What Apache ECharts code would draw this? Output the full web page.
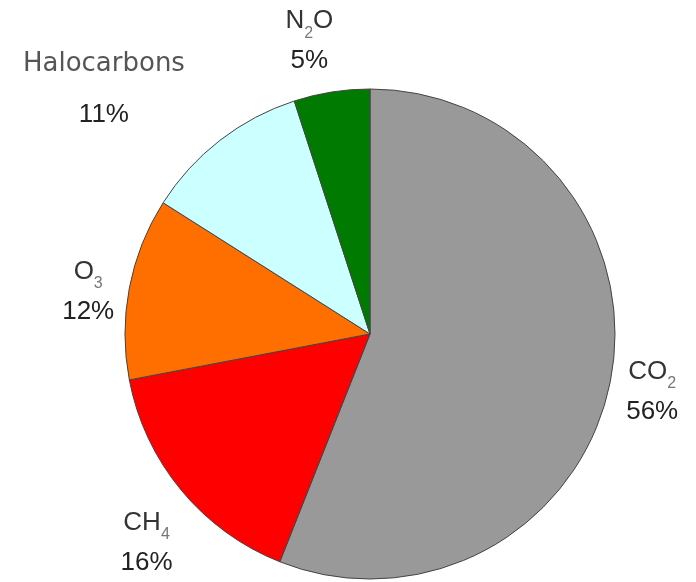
<!DOCTYPE html>
<html>
<head>
<meta charset="utf-8">
<script src="https://cdn.jsdelivr.net/npm/echarts@6/dist/echarts.min.js"></script>
<style>
  html, body { margin: 0; padding: 0; background: #ffffff; }
  #chart { width: 696px; height: 582px; }
</style>
</head>
<body>
<div id="chart"></div>
<script>
// ---- data ----
var categories = ['CO2', 'CH4', 'O3', 'Halocarbons', 'N2O'];
var values = [56, 16, 12, 11, 5];
var nameLabels = ['{n|CO}{s|2}', '{n|CH}{s|4}', '{n|O}{s|3}', '{h|Halocarbons}', '{n|N}{s|2}{n|O}'];

// ---- style ----
var colors = ['#999999', '#ff0000', '#ff6f00', '#ccffff', '#007a00'];
var CX = 370, CY = 334, R = 245;
// label placement: extra radial distance and angle tweak (degrees) per slice
var labelGap = [43, 61, 40, 120, 54];
var labelTweak = [0.7, -3.5, -2.2, -9, -2.7];

var total = values.reduce(function (a, b) { return a + b; }, 0);
var midAngles = [];
(function () {
  var acc = 0;
  for (var i = 0; i < values.length; i++) {
    midAngles.push((acc + values[i] / 2) / total * 360);
    acc += values[i];
  }
})();

var chart = echarts.init(document.getElementById('chart'), null, { renderer: 'canvas' });
chart.setOption({
  animation: false,
  backgroundColor: '#ffffff',
  series: [{
    type: 'pie',
    center: [CX, CY],
    radius: R,
    startAngle: 90,
    clockwise: true,
    silent: true,
    data: categories.map(function (c, i) {
      return { name: c, value: values[i], itemStyle: { color: colors[i] } };
    }),
    itemStyle: { borderColor: '#444444', borderWidth: 1 },
    emphasis: { disabled: true },
    labelLine: { show: false },
    label: {
      show: true,
      position: 'outside',
      overflow: 'none',
      formatter: function (p) {
        return nameLabels[p.dataIndex] + '\n{p|' + Math.round(p.value) + '%}';
      },
      rich: {
        n: { fontFamily: 'Liberation Sans', fontSize: 26, color: '#333333', lineHeight: 40 },
        s: { fontFamily: 'Liberation Sans', fontSize: 16, color: '#777777', lineHeight: 28, verticalAlign: 'bottom' },
        h: { fontFamily: 'DejaVu Sans', fontSize: 26, color: '#555555', lineHeight: 62 },
        p: { fontFamily: 'Liberation Sans', fontSize: 26, color: '#222222', lineHeight: 40 }
      }
    },
    labelLayout: function (params) {
      var i = params.dataIndex;
      var a = (midAngles[i] + labelTweak[i]) * Math.PI / 180;
      var d = R + labelGap[i];
      return {
        x: CX + d * Math.sin(a),
        y: CY - d * Math.cos(a),
        align: 'center',
        verticalAlign: 'middle'
      };
    }
  }]
});
</script>
</body>
</html>
